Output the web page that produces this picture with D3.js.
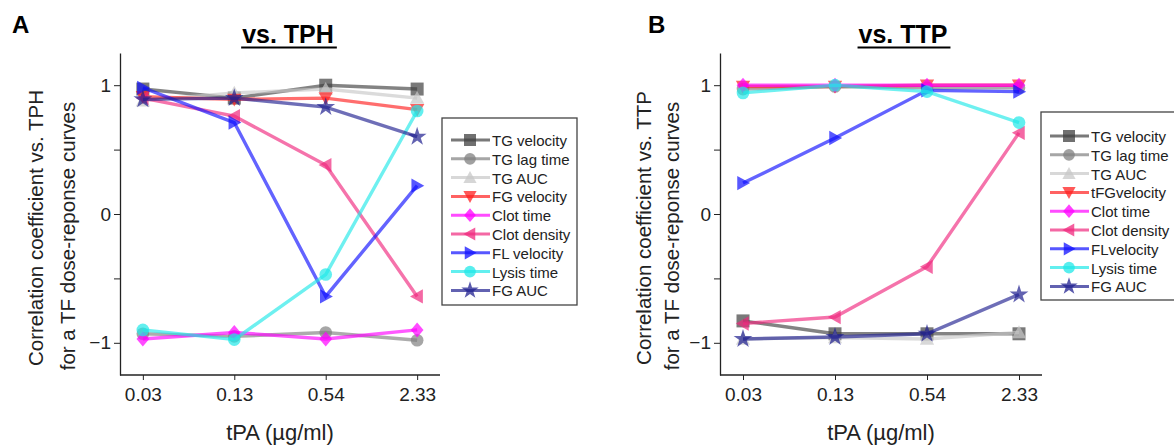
<!DOCTYPE html>
<html><head><meta charset="utf-8">
<script src="https://cdn.jsdelivr.net/npm/d3@7"></script>
<style>body{margin:0;background:#fff}svg{display:block;font-family:"Liberation Sans",Arial,sans-serif}</style>
</head><body><svg id="c" width="1174" height="448"></svg>
<script>
const doses = ["0.03","0.13","0.54","2.33"];
const yTicks = [-1, 0, 1];
const yMinor = [-0.5, 0.5];
const seriesNamesA = ["TG velocity","TG lag time","TG AUC","FG velocity","Clot time","Clot density","FL velocity","Lysis time","FG AUC"];
const seriesNamesB = ["TG velocity","TG lag time","TG AUC","tFGvelocity","Clot time","Clot density","FLvelocity","Lysis time","FG AUC"];
const seriesColors = ["#404040","#808080","#c8c8c8","#ff2020","#ff00ff","#f0287e","#1010ff","#20e8e8","#202090"];
const seriesShapes = ["square","circle","up","down","diamond","left","right","circle","star"];

// vs. TPH
const tphTGvel   = [0.97, 0.90, 1.00, 0.97];
const tphTGlag   = [-0.93, -0.95, -0.92, -0.98];
const tphTGauc   = [0.88, 0.94, 0.97, 0.90];
const tphFGvel   = [0.91, 0.89, 0.90, 0.81];
const tphClotT   = [-0.97, -0.92, -0.97, -0.90];
const tphClotD   = [0.90, 0.76, 0.38, -0.64];
const tphFLvel   = [0.98, 0.71, -0.64, 0.22];
const tphLysis   = [-0.90, -0.975, -0.47, 0.80];
const tphFGauc   = [0.89, 0.90, 0.83, 0.60];

// vs. TTP
const ttpTGvel   = [-0.83, -0.93, -0.93, -0.93];
const ttpTGlag   = [0.97, 0.99, 0.98, 0.98];
const ttpTGauc   = [-0.97, -0.96, -0.97, -0.92];
const ttpFGvel   = [0.99, 0.99, 1.00, 1.00];
const ttpClotT   = [1.00, 1.00, 1.00, 1.00];
const ttpClotD   = [-0.85, -0.80, -0.41, 0.63];
const ttpFLvel   = [0.24, 0.59, 0.96, 0.95];
const ttpLysis   = [0.94, 1.00, 0.95, 0.71];
const ttpFGauc   = [-0.97, -0.955, -0.93, -0.625];

const panels = [
  {letter:"A", title:"vs. TPH", yl1:"Correlation coefficient vs. TPH", names:seriesNamesA,
   data:[tphTGvel,tphTGlag,tphTGauc,tphFGvel,tphClotT,tphClotD,tphFLvel,tphLysis,tphFGauc],
   x0:120, x1:440, letterX:12, titleX:288, yl1X:35, yl2X:67,
   leg:{x:442,y:118,w:135,h:187,ty:145}},
  {letter:"B", title:"vs. TTP", yl1:"Correlation coefficient vs. TTP", names:seriesNamesB,
   data:[ttpTGvel,ttpTGlag,ttpTGauc,ttpFGvel,ttpClotT,ttpClotD,ttpFLvel,ttpLysis,ttpFGauc],
   x0:720, x1:1042, letterX:648, titleX:903, yl1X:643, yl2X:671,
   leg:{x:1041,y:112,w:150,h:188,ty:141}}
];

const svg = d3.select("#c");
const yTop = 53, yBot = 375;

function shapePath(kind, size) {
  const r = size/2;
  if (kind === "square") return d3.symbol(d3.symbolSquare, size*size)();
  if (kind === "circle") return d3.symbol(d3.symbolCircle, Math.PI*r*r*0.95)();
  if (kind === "diamond") { const a=r*1.15; return `M0,${-a}L${a*0.85},0L0,${a}L${-a*0.85},0Z`; }
  if (kind === "star") return d3.symbol(d3.symbolStar, size*size*0.65)();
  const a = r*1.1;
  const tri = {up:[[0,-a],[a,a*0.8],[-a,a*0.8]], down:[[0,a],[a,-a*0.8],[-a,-a*0.8]],
               left:[[-a,0],[a*0.8,-a],[a*0.8,a]], right:[[a,0],[-a*0.8,-a],[-a*0.8,a]]}[kind];
  return "M"+tri.map(p=>p.join(",")).join("L")+"Z";
}

panels.forEach(p => {
  const x = d3.scalePoint().domain(doses).range([p.x0, p.x1]).padding(0.25);
  const y = d3.scaleLinear().domain([-1.25, 1.25]).range([yBot, yTop]);
  const g = svg.append("g");

  // letter and title
  g.append("text").attr("x", p.letterX).attr("y", 33).attr("font-size", 24).attr("font-weight", "bold").text(p.letter);
  const t = g.append("text").attr("x", p.titleX).attr("y", 43).attr("text-anchor","middle")
    .attr("font-size", 25).attr("font-weight","bold").text(p.title);
  const tw = t.node().getComputedTextLength();
  g.append("line").attr("x1", p.titleX - tw/2 - 1).attr("x2", p.titleX + tw/2 + 3)
    .attr("y1", 47.5).attr("y2", 47.5).attr("stroke","#000").attr("stroke-width",2);

  // axes
  const ya = d3.axisLeft(y).tickValues(yTicks).tickFormat(d3.format("d")).tickSize(6).tickSizeOuter(0);
  const yg = g.append("g").attr("transform", `translate(${p.x0},0)`).call(ya);
  yg.select(".domain").attr("stroke","#222").attr("stroke-width",1.3);
  yg.selectAll(".tick line").attr("stroke","#222");
  yg.selectAll(".tick text").attr("font-size",19).attr("fill","#222").attr("font-family","Liberation Sans, Arial").attr("x",-9);
  g.append("g").attr("transform", `translate(${p.x0},0)`)
    .call(d3.axisLeft(y).tickValues(yMinor).tickFormat("").tickSize(6).tickSizeOuter(0))
    .call(s => { s.select(".domain").remove(); s.selectAll("line").attr("stroke","#222"); });

  const xa = d3.axisBottom(x).tickSize(5).tickSizeOuter(0);
  const xg = g.append("g").attr("transform", `translate(0,${yBot})`).call(xa);
  xg.select(".domain").attr("d", `M${p.x0},0H${p.x1}`).attr("stroke","#222").attr("stroke-width",1.3);
  xg.selectAll(".tick line").attr("stroke","#222");
  xg.selectAll(".tick text").attr("font-size",19).attr("fill","#222").attr("font-family","Liberation Sans, Arial").attr("dy","1em").attr("y",7);

  g.append("text").attr("x", (p.x0+p.x1)/2).attr("y", 440).attr("text-anchor","middle")
    .attr("font-size",22).attr("fill","#222").text("tPA (\u00b5g/ml)");

  g.append("text").attr("transform", `translate(${p.yl1X},${228}) rotate(-90)`).attr("text-anchor","middle")
    .attr("dominant-baseline","central").attr("font-size",20.5).attr("fill","#222").text(p.yl1);
  g.append("text").attr("transform", `translate(${p.yl2X},${236}) rotate(-90)`).attr("text-anchor","middle")
    .attr("dominant-baseline","central").attr("font-size",20.5).attr("fill","#222").text("for a TF dose-reponse curves");

  // series
  const line = d3.line().x((d,i)=>x(doses[i])).y(d=>y(d));
  p.data.forEach((vals, si) => {
    const col = seriesColors[si];
    const sg = g.append("g");
    sg.append("path").attr("d", line(vals)).attr("fill","none").attr("stroke",col)
      .attr("stroke-width",3.4).attr("stroke-opacity",0.65);
    sg.selectAll("path.m").data(vals).join("path").attr("class","m")
      .attr("transform",(d,i)=>`translate(${x(doses[i])},${y(d)})`)
      .attr("d", shapePath(seriesShapes[si], 13)).attr("fill",col).attr("fill-opacity",0.7);
  });

  // legend
  const L = p.leg;
  g.append("rect").attr("x",L.x).attr("y",L.y).attr("width",L.w).attr("height",L.h)
    .attr("fill","#fff").attr("stroke","#444").attr("stroke-width",1.3);
  p.names.forEach((nm, si) => {
    const yy = L.ty + si*18.8;
    const col = seriesColors[si];
    g.append("line").attr("x1",L.x+9).attr("x2",L.x+48).attr("y1",yy-5).attr("y2",yy-5)
      .attr("stroke",col).attr("stroke-width",3).attr("stroke-opacity",0.7);
    g.append("path").attr("transform",`translate(${L.x+28},${yy-5})`).attr("d",shapePath(seriesShapes[si],12))
      .attr("fill",col).attr("fill-opacity",0.75);
    g.append("text").attr("x",L.x+50).attr("y",yy+1).attr("font-size",15).attr("fill","#222").text(nm);
  });
});
</script></body></html>
